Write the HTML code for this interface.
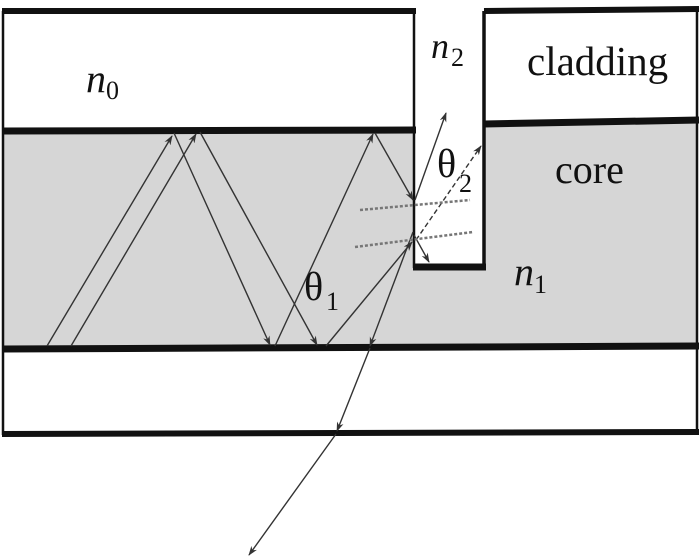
<!DOCTYPE html>
<html><head><style>
html,body{margin:0;padding:0;background:#fff;}
svg{display:block;}
text{font-family:"Liberation Serif","Times New Roman",serif;fill:#111;}
</style></head><body>
<svg width="700" height="560" viewBox="0 0 700 560" xmlns="http://www.w3.org/2000/svg">
<defs>
<marker id="a" viewBox="0 0 10 10" refX="9" refY="5" markerWidth="7" markerHeight="7" orient="auto-start-reverse">
<path d="M0,1.5 L10,5 L0,8.5 L3,5 z" fill="#333"/>
</marker>
</defs>
<polygon points="3,131 415,131 415,267 484,267 484,124 697,121 697,346 3,348" fill="#d6d6d6"/>
<g stroke="#111" fill="none">
<line x1="3" y1="11" x2="3" y2="435" stroke-width="2.5"/>
<line x1="697" y1="10" x2="697" y2="433" stroke-width="2.5"/>
<line x1="2" y1="11" x2="416" y2="11" stroke-width="6"/>
<line x1="484" y1="11" x2="699" y2="9" stroke-width="6"/>
<line x1="2" y1="131" x2="416" y2="130" stroke-width="7"/>
<line x1="484" y1="124" x2="699" y2="120" stroke-width="7"/>
<line x1="414" y1="11" x2="414" y2="268" stroke-width="2.5"/>
<line x1="484" y1="11" x2="484" y2="268" stroke-width="3.5"/>
<line x1="413" y1="267" x2="486" y2="267" stroke-width="7"/>
<line x1="2" y1="349" x2="699" y2="346" stroke-width="7"/>
<line x1="2" y1="434" x2="699" y2="432" stroke-width="6"/>
</g>
<g stroke="#333" stroke-width="1.4" fill="none">
<line x1="47" y1="346" x2="172" y2="136" marker-end="url(#a)"/>
<line x1="174" y1="133" x2="270" y2="345" marker-end="url(#a)"/>
<line x1="275" y1="346" x2="373" y2="134" marker-end="url(#a)"/>
<line x1="375" y1="133" x2="413" y2="200" marker-end="url(#a)"/>
<line x1="71" y1="346" x2="196" y2="134" marker-end="url(#a)"/>
<line x1="200" y1="132" x2="317" y2="345" marker-end="url(#a)"/>
<line x1="326" y1="346" x2="412" y2="242" marker-end="url(#a)"/>
<line x1="415" y1="200" x2="446" y2="113" marker-end="url(#a)"/>
<line x1="413" y1="232" x2="370" y2="346" marker-end="url(#a)"/>
<line x1="370" y1="348" x2="337" y2="431" marker-end="url(#a)"/>
<line x1="336" y1="434" x2="249" y2="555" marker-end="url(#a)"/>
<line x1="414" y1="235" x2="429" y2="262" marker-end="url(#a)"/>
<line x1="416" y1="240" x2="481" y2="146" stroke-dasharray="5,3" marker-end="url(#a)"/>
</g>
<g stroke="#777" stroke-width="2.5" stroke-dasharray="3,2">
<line x1="360" y1="210" x2="470" y2="200"/>
<line x1="355" y1="247" x2="473" y2="232"/>
</g>
<text x="86" y="92" font-size="40" font-style="italic">n</text>
<text x="106" y="99" font-size="26">0</text>
<text x="431" y="58" font-size="36" font-style="italic">n</text>
<text x="451" y="66" font-size="26">2</text>
<text x="527" y="75" font-size="41">cladding</text>
<text x="555" y="183" font-size="40">core</text>
<text x="514" y="285" font-size="40" font-style="italic">n</text>
<text x="534" y="293" font-size="26">1</text>
<text x="304" y="300" font-size="40">θ</text>
<text x="326" y="310" font-size="26">1</text>
<text x="437" y="177" font-size="40">θ</text>
<text x="459" y="192" font-size="26">2</text>
</svg>
</body></html>
